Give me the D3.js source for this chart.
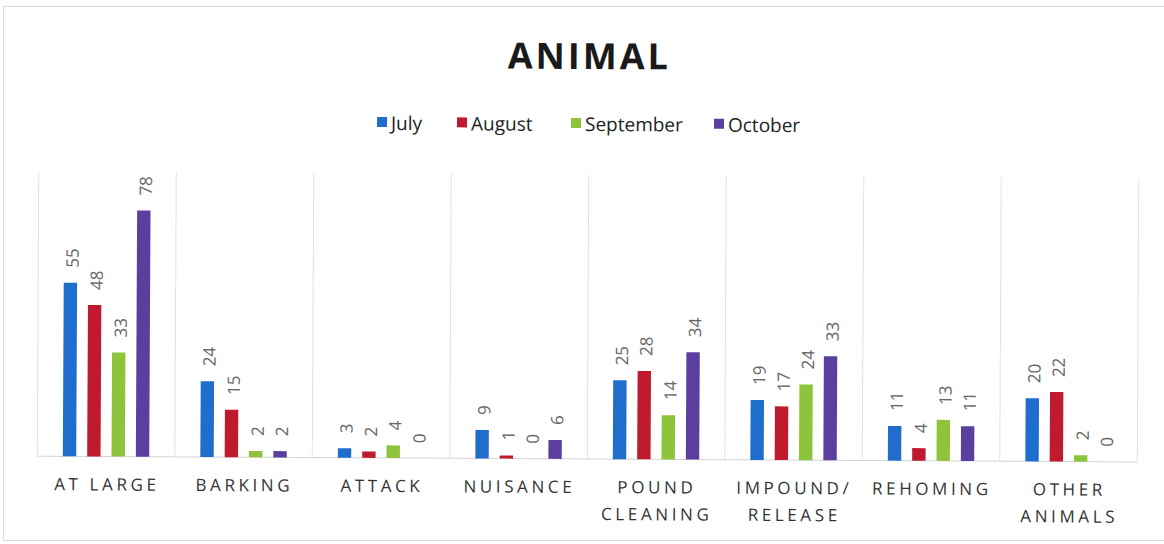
<!DOCTYPE html>
<html>
<head>
<meta charset="utf-8">
<script src="https://cdn.jsdelivr.net/npm/d3@7"></script>
<style>
  html, body { margin: 0; padding: 0; background: #fff; }
  svg { display: block; }
</style>
</head>
<body>
<div id="chart"></div>
<script>
// Animal control call-outs by category, July–October
const categories = [
  ["AT LARGE"],
  ["BARKING"],
  ["ATTACK"],
  ["NUISANCE"],
  ["POUND", "CLEANING"],
  ["IMPOUND/", "RELEASE"],
  ["REHOMING"],
  ["OTHER", "ANIMALS"]
];
const months = ["July", "August", "September", "October"];
const july      = [55, 24, 3, 9, 25, 19, 11, 20];
const august    = [48, 15, 2, 1, 28, 17, 4, 22];
const september = [33, 2, 4, 0, 14, 24, 13, 2];
const october   = [78, 2, 0, 6, 34, 33, 11, 0];
const seriesValues = [july, august, september, october];
const colors = ["#1f6dcc", "#c01a2e", "#8dc43c", "#5a3f9e"];
const yMax = 90;

const W = 1164, H = 544;
const plot = { left: 38, right: 1138, top: 175, bottom: 459 };

const svg = d3.select("#chart").append("svg")
  .attr("width", W).attr("height", H)
  .style("font-family", "'Open Sans', 'Liberation Sans', sans-serif");

// outer frame (top, left, bottom edges)
svg.append("path")
  .attr("d", `M${W},6.5 H3.5 V540.5 H${W}`)
  .attr("fill", "none").attr("stroke", "#dcdcdc").attr("stroke-width", 1);

const g = svg.append("g").attr("transform", "rotate(0.3, 582, 320)");

// title
g.append("text")
  .attr("x", 588).attr("y", 69)
  .attr("text-anchor", "middle")
  .attr("font-size", 36).attr("font-weight", 700)
  .attr("letter-spacing", 3)
  .attr("fill", "#1a1a1a")
  .text("ANIMAL");

// legend
const legendX = [376, 456, 570, 713];
const legend = g.append("g").selectAll("g").data(months).join("g")
  .attr("transform", (d, i) => `translate(${legendX[i]}, 124)`);
legend.append("rect")
  .attr("x", 0).attr("y", -6).attr("width", 10).attr("height", 10)
  .attr("fill", (d, i) => colors[i]);
legend.append("text")
  .attr("x", 14).attr("y", 7)
  .attr("font-size", 19).attr("fill", "#222")
  .text(d => d);

const x0 = d3.scaleBand()
  .domain(d3.range(categories.length))
  .range([plot.left, plot.right])
  .paddingInner(0).paddingOuter(0);

const x1 = d3.scaleBand()
  .domain(d3.range(months.length))
  .range([0, x0.bandwidth()])
  .paddingInner(0.45).paddingOuter(1.05);

const y = d3.scaleLinear().domain([0, yMax]).range([plot.bottom, plot.top]);

// vertical category dividers
const dividers = d3.range(categories.length + 1).map(i => plot.left + i * x0.step());
g.append("g").selectAll("line").data(dividers).join("line")
  .attr("x1", d => d).attr("x2", d => d)
  .attr("y1", plot.top).attr("y2", plot.bottom)
  .attr("stroke", "#e2e2e2").attr("stroke-width", 1);

// baseline
g.append("line")
  .attr("x1", plot.left).attr("x2", plot.right)
  .attr("y1", plot.bottom).attr("y2", plot.bottom)
  .attr("stroke", "#d4d4d4").attr("stroke-width", 1);

// bars and value labels
const cells = [];
categories.forEach((c, ci) => {
  seriesValues.forEach((vals, si) => {
    cells.push({ ci, si, v: vals[ci] });
  });
});

g.append("g").selectAll("rect").data(cells).join("rect")
  .attr("x", d => x0(d.ci) + x1(d.si))
  .attr("y", d => y(d.v))
  .attr("width", x1.bandwidth())
  .attr("height", d => y(0) - y(d.v))
  .attr("fill", d => colors[d.si]);

g.append("g").selectAll("text").data(cells).join("text")
  .attr("transform", d => {
    const cx = x0(d.ci) + x1(d.si) + x1.bandwidth() / 2 + 2;
    const cy = y(d.v) - 15;
    return `translate(${cx}, ${cy}) rotate(-90)`;
  })
  .attr("text-anchor", "start")
  .attr("dy", "0.35em")
  .attr("font-size", 17)
  .attr("fill", "#666")
  .text(d => d.v);

// category labels
const catLabels = g.append("g").selectAll("text").data(categories).join("text")
  .attr("text-anchor", "middle")
  .attr("font-size", 17)
  .attr("letter-spacing", 3.6)
  .attr("fill", "#333")
  .attr("transform", (d, i) => `translate(${x0(i) + x0.bandwidth() / 2 + 1}, ${plot.bottom + 34})`);
catLabels.selectAll("tspan").data(d => d).join("tspan")
  .attr("x", 0)
  .attr("y", (d, i) => i * 27)
  .text(d => d);
</script>
</body>
</html>
